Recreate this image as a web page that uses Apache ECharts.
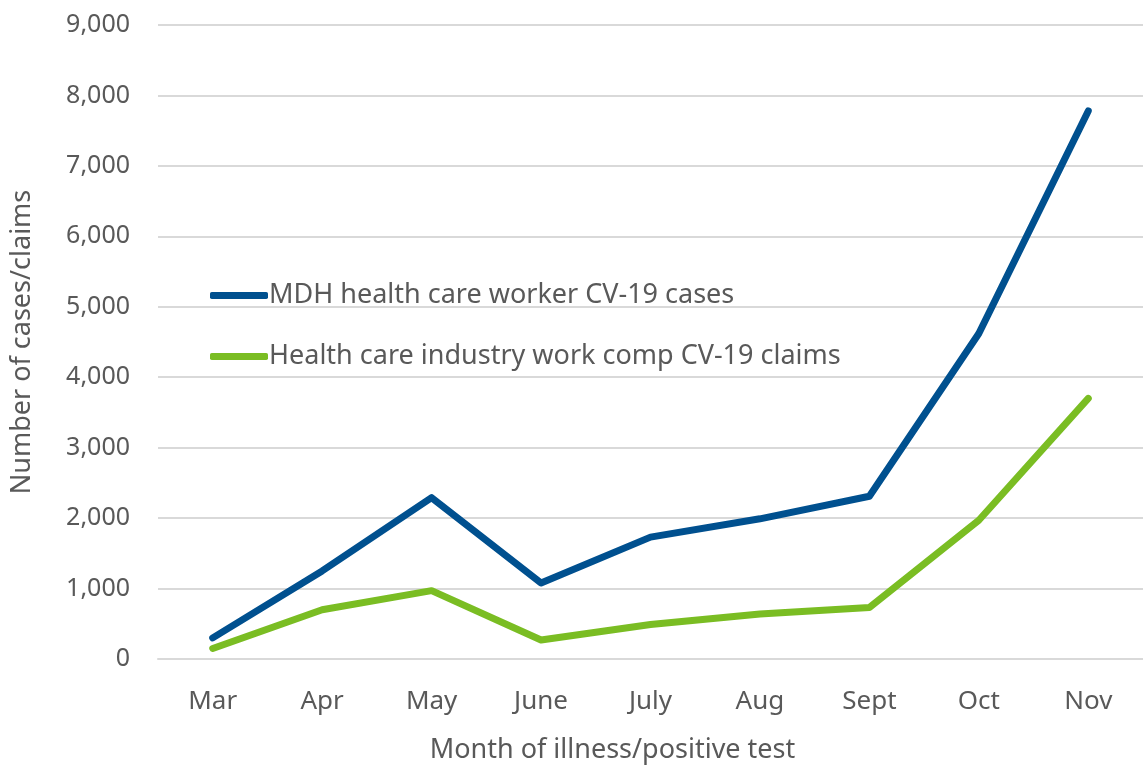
<!DOCTYPE html>
<html>
<head>
<meta charset="utf-8">
<script src="https://cdn.jsdelivr.net/npm/echarts@6/dist/echarts.min.js"></script>
<style>
html, body { margin: 0; padding: 0; background: #fff; }
#chart { width: 1143px; height: 769px; }
</style>
</head>
<body>
<div id="chart"></div>
<script>
// 月份
var months = ['Mar', 'Apr', 'May', 'June', 'July', 'Aug', 'Sept', 'Oct', 'Nov'];
// MDH 病例
var mdhCases = [300, 1250, 2290, 1080, 1730, 1990, 2310, 4620, 7780];
// 工伤索赔
var compClaims = [150, 700, 970, 270, 490, 640, 730, 1970, 3700];
var seriesNames = ['MDH health care worker CV-19 cases', 'Health care industry work comp CV-19 claims'];

var font = '"Noto Sans", sans-serif';
var grey = '#595959';

var myChart = echarts.init(document.getElementById('chart'));
var option = {
	animation: false,
	textStyle: { fontFamily: font },
	grid: { left: 158, right: 0, top: 25, bottom: 108 },
	legend: {
		orient: 'vertical',
		left: 205,
		top: 277,
		itemGap: 34,
		itemWidth: 58,
		itemHeight: 7,
		icon: 'roundRect',
		textStyle: { fontSize: 27, color: grey, fontFamily: font, padding: [0, 0, 0, -4] },
		data: seriesNames
	},
	xAxis: {
		type: 'category',
		data: months,
		axisTick: { show: false },
		axisLine: { lineStyle: { color: '#d9d9d9', width: 2 } },
		axisLabel: { fontSize: 26, color: grey, margin: 30 },
		name: 'Month of illness/positive test',
		nameLocation: 'middle',
		nameGap: 78,
		nameTextStyle: { fontSize: 27, color: grey, padding: [0, 76, 0, 0] }
	},
	yAxis: {
		type: 'value',
		min: 0,
		max: 9000,
		interval: 1000,
		axisLine: { show: false },
		axisTick: { show: false },
		splitLine: { lineStyle: { color: '#d9d9d9', width: 2 } },
		axisLabel: {
			fontSize: 25, color: grey, margin: 28,
			formatter: function(v) { return v.toLocaleString('en-US'); }
		},
		name: 'Number of cases/claims',
		nameLocation: 'middle',
		nameGap: 122,
		nameTextStyle: { fontSize: 27, color: grey }
	},
	series: [
		{
			name: seriesNames[0],
			type: 'line',
			data: mdhCases,
			symbol: 'none',
			color: '#00508f',
			lineStyle: { width: 7, cap: 'round', join: 'round' }
		},
		{
			name: seriesNames[1],
			type: 'line',
			data: compClaims,
			symbol: 'none',
			color: '#7abd23',
			lineStyle: { width: 7, cap: 'round', join: 'round' }
		}
	]
};
myChart.setOption(option);
</script>
</body>
</html>
